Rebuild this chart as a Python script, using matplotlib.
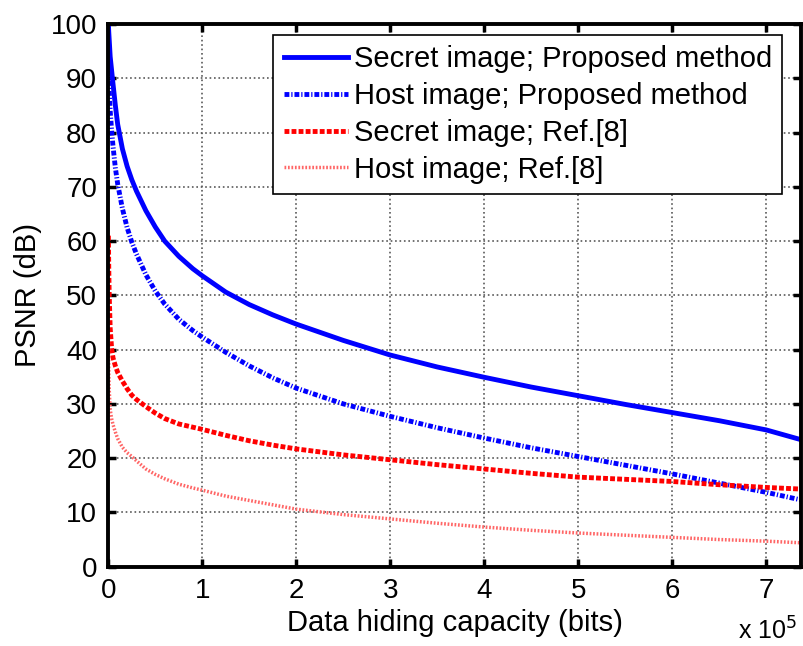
import numpy as np
import matplotlib.pyplot as plt

plt.rcParams['font.family'] = ['Liberation Sans', 'DejaVu Sans']

# data hiding capacity in units of 1e5 bits
capacity = [0.001, 0.005, 0.01, 0.02, 0.035, 0.05, 0.075, 0.1, 0.15, 0.2, 0.25, 0.3,
            0.4, 0.5, 0.6, 0.75, 0.9, 1.0, 1.25, 1.5, 1.75, 2.0, 2.5, 3.0, 3.5,
            4.0, 4.5, 5.0, 5.5, 6.0, 6.5, 7.0, 7.37]

secret_proposed = [100, 98.5, 97, 94, 91.5, 89, 85, 81.5, 77, 73.8, 71.3, 69.2,
                   65.6, 62.6, 60, 57.2, 54.9, 53.6, 50.6, 48.3, 46.4, 44.7, 41.7, 39.0, 36.8,
                   34.9, 33.1, 31.5, 29.9, 28.4, 26.9, 25.2, 23.4]
host_proposed = [95, 91, 88, 84, 80.5, 77.5, 73.5, 70.5, 66, 62.5, 59.8, 57.6,
                 53.8, 50.8, 48.4, 45.6, 43.5, 42.3, 39.5, 37.0, 34.8, 32.9, 30.0, 27.7, 25.6,
                 23.7, 21.9, 20.3, 18.7, 17.1, 15.4, 13.7, 12.3]
secret_ref8 = [61, 55, 50, 44, 40.3, 38.5, 37, 35.8, 34.2, 32.8, 31.6, 30.8,
               29.5, 28.3, 27.3, 26.3, 25.7, 25.3, 24.2, 23.2, 22.4, 21.7, 20.6, 19.7, 18.8,
               18.0, 17.2, 16.5, 16.1, 15.7, 15.1, 14.6, 14.3]
host_ref8 = [42, 36, 32.5, 29, 27.3, 26.2, 24.8, 23.6, 22, 21, 20.3, 19.5,
             18, 17, 16.2, 15.2, 14.5, 14.1, 13.0, 12.2, 11.4, 10.6, 9.6, 8.8, 8.0,
             7.3, 6.7, 6.2, 5.8, 5.4, 5.0, 4.7, 4.4]

labels = ['Secret image; Proposed method', 'Host image; Proposed method',
          'Secret image; Ref.[8]', 'Host image; Ref.[8]']

fig = plt.figure(figsize=(8.04, 6.46), dpi=100)
ax = fig.add_axes([0.1347, 0.1228, 0.8616, 0.8400])

ax.plot(capacity, secret_proposed, color='#0000ff', lw=3.5, ls='-', label=labels[0])
ax.plot(capacity, host_proposed, color='#0000ff', lw=3.5, ls=(0, (1, 0.4, 0.25, 0.4)), label=labels[1])
ax.plot(capacity, secret_ref8, color='#ff0000', lw=3.5, ls=(0, (1, 0.45)), label=labels[2])
ax.plot(capacity, host_ref8, color='#ff6666', lw=2.5, ls=(0, (0.5, 0.5)), label=labels[3])

ax.set_xlim(0, 7.37)
ax.set_ylim(0, 100)
ax.set_xticks(range(0, 8))
ax.set_yticks(range(0, 101, 10))
ax.tick_params(direction='in', length=6, width=2.5, labelsize=20, top=True, right=True, pad=8)
for s in ax.spines.values():
    s.set_linewidth(2.8)
ax.grid(True, color='0.35', ls=':', lw=1.2)

ax.set_xlabel('Data hiding capacity (bits)', fontsize=21, labelpad=4)
ax.set_ylabel('PSNR (dB)', fontsize=21, labelpad=6)
fig.text(0.918, 0.01, 'x 10$^{5}$', fontsize=18)

leg = ax.legend(loc='upper right', bbox_to_anchor=(0.9726, 0.9797), borderaxespad=0,
                fontsize=21, handlelength=2.2, labelspacing=0.3,
                borderpad=0.35, handletextpad=0.2, fancybox=False, framealpha=1)
leg.get_frame().set_edgecolor('black')
leg.get_frame().set_linewidth(1.2)

plt.savefig('out.png', dpi=100)
